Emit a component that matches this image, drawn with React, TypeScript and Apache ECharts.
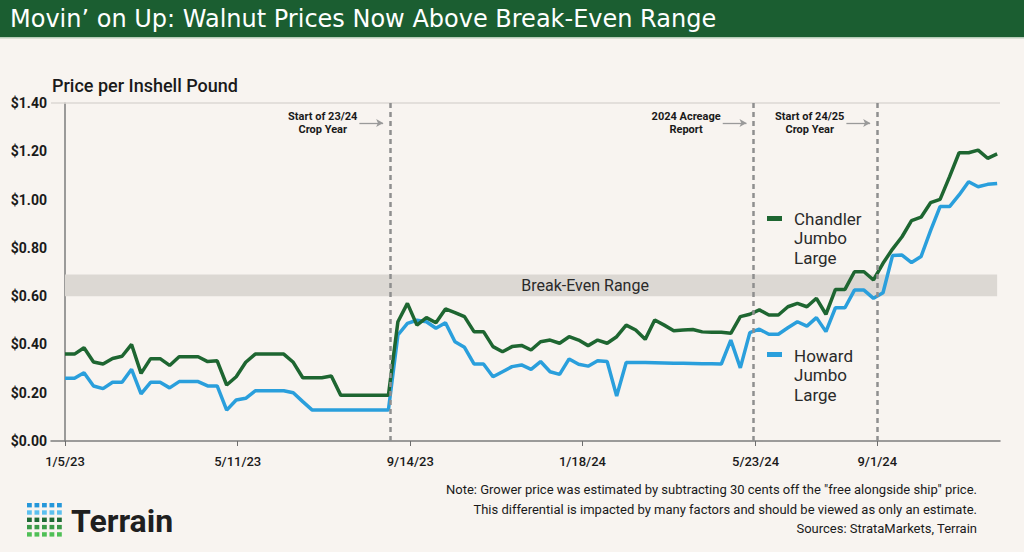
import React, { useEffect, useRef } from 'react';
import * as echarts from 'echarts';

// X positions are week indices (one point per week)
const tickPositions = [0, 18.16, 36.3, 54.4, 72.6, 85.4];
const tickLabels = ['1/5/23', '5/11/23', '9/14/23', '1/18/24', '5/23/24', '9/1/24'];
const eventPositions = [34.2, 72.4, 85.4];
const eventLabels = ['Start of 23/24\nCrop Year', '2024 Acreage\nReport', 'Start of 24/25\nCrop Year'];
const breakEvenRange = [0.6, 0.69];
const breakEvenLabel = 'Break-Even Range';
const seriesNames = ['Chandler Jumbo Large', 'Howard Jumbo Large'];

const chandler = [
  0.36, 0.36, 0.386, 0.327, 0.319, 0.342, 0.351, 0.40, 0.28, 0.341,
  0.341, 0.313, 0.349, 0.349, 0.349, 0.329, 0.332, 0.232, 0.266, 0.326,
  0.36, 0.36, 0.36, 0.36, 0.326, 0.262, 0.262, 0.262, 0.269, 0.189,
  0.189, 0.189, 0.189, 0.189, 0.189, 0.494, 0.57, 0.48, 0.511, 0.49,
  0.547, 0.532, 0.515, 0.453, 0.453, 0.391, 0.37, 0.391, 0.396, 0.377,
  0.411, 0.418, 0.405, 0.432, 0.418, 0.395, 0.418, 0.405, 0.432, 0.48,
  0.46, 0.421, 0.501, 0.48, 0.457, 0.46, 0.462, 0.452, 0.45, 0.45,
  0.446, 0.515, 0.525, 0.543, 0.522, 0.522, 0.556, 0.57, 0.556, 0.591,
  0.525, 0.628, 0.628, 0.701, 0.701, 0.667, 0.736, 0.795, 0.846, 0.913,
  0.927, 0.987, 1.001, 1.095, 1.194, 1.194, 1.205, 1.171, 1.189,
];

const howard = [
  0.26, 0.26, 0.283, 0.228, 0.217, 0.243, 0.243, 0.297, 0.195, 0.243,
  0.243, 0.22, 0.246, 0.246, 0.246, 0.228, 0.228, 0.128, 0.17, 0.177,
  0.208, 0.208, 0.208, 0.208, 0.2, 0.163, 0.128, 0.128, 0.128, 0.128,
  0.128, 0.128, 0.128, 0.128, 0.128, 0.439, 0.487, 0.5, 0.494, 0.467,
  0.49, 0.411, 0.388, 0.319, 0.319, 0.266, 0.287, 0.308, 0.315, 0.297,
  0.329, 0.287, 0.276, 0.34, 0.318, 0.31, 0.332, 0.329, 0.186, 0.325,
  0.325, 0.325, 0.324, 0.323, 0.322, 0.322, 0.321, 0.32, 0.32, 0.319,
  0.418, 0.303, 0.449, 0.463, 0.442, 0.442, 0.469, 0.494, 0.476, 0.511,
  0.453, 0.552, 0.552, 0.625, 0.625, 0.591, 0.614, 0.768, 0.77, 0.739,
  0.764, 0.871, 0.971, 0.971, 1.019, 1.074, 1.053, 1.063, 1.067,
];

const GREEN = '#1e6631';
const BLUE = '#2a9fdc';
const BODY_FONT = 'Roboto, "Liberation Sans", sans-serif';

const logoColors = ['#2597da', '#5cc0ef', '#1e6a35', '#3a9a48', '#4fbf56'];

export default function App() {
  const ref = useRef<HTMLDivElement>(null);

  useEffect(() => {
    if (!ref.current) return;
    const chart = echarts.init(ref.current, undefined, { renderer: 'svg' });

    const logo: any[] = [];
    logoColors.forEach((c, r) => {
      for (let k = 0; k < 5; k++) {
        logo.push({
          type: 'rect',
          shape: { x: 27 + k * 7.5, y: 503 + r * 7.3, width: 4.8, height: 4.4 },
          style: { fill: c },
        });
      }
    });

    const option: any = {
      animation: false,
      backgroundColor: '#f8f4f0',
      grid: { left: 51, right: 24, top: 103, bottom: 111, containLabel: false },
      xAxis: {
        type: 'value',
        min: -1.47,
        max: 98.3,
        axisLine: { show: true, lineStyle: { color: '#7d7d7d', width: 1.5 } },
        axisTick: { show: true, customValues: tickPositions, length: 5, lineStyle: { color: '#6d6d6d', width: 1 } },
        axisLabel: {
          customValues: tickPositions,
          margin: 14,
          fontSize: 13,
          fontWeight: 500,
          color: '#1a1a1a',
          fontFamily: BODY_FONT,
          formatter: (v: number) => {
            const idx = tickPositions.findIndex((p) => Math.abs(p - v) < 0.01);
            return idx >= 0 ? tickLabels[idx] : '';
          },
        },
        splitLine: { show: false },
      },
      yAxis: {
        type: 'value',
        min: 0,
        max: 1.4,
        interval: 0.2,
        axisLine: { show: true, lineStyle: { color: '#7d7d7d', width: 1.5 } },
        axisTick: { show: false },
        splitLine: { show: false },
        axisLabel: {
          margin: 4,
          fontSize: 14,
          fontWeight: 'bold',
          color: '#1a1a1a',
          fontFamily: BODY_FONT,
          formatter: (v: number) => '$' + v.toFixed(2),
        },
      },
      series: [
        {
          name: 'band',
          type: 'line',
          data: [],
          z: 1,
          markArea: {
            silent: true,
            itemStyle: { color: '#dcd8d3' },
            label: {
              show: true,
              position: 'inside',
              offset: [54, 0],
              formatter: breakEvenLabel,
              fontSize: 16,
              color: '#2a2a2a',
              fontFamily: BODY_FONT,
            },
            data: [[{ xAxis: 0, yAxis: breakEvenRange[0] }, { xAxis: chandler.length - 1, yAxis: breakEvenRange[1] }]],
          },
          markLine: {
            silent: true,
            symbol: 'none',
            label: { show: false },
            lineStyle: { color: '#dcd9d5', width: 1.5, type: 'solid' },
            data: [{ yAxis: 1.4 }],
          },
        },
        {
          name: 'events',
          type: 'line',
          data: [],
          z: 2,
          markLine: {
            silent: true,
            symbol: 'none',
            label: { show: false },
            lineStyle: { color: '#8f8f8f', width: 2.5, type: [5, 4] },
            data: eventPositions.map((x) => ({ xAxis: x })),
          },
        },
        {
          name: 'arrows',
          type: 'line',
          data: [],
          z: 2,
          markLine: {
            silent: true,
            symbol: ['none', 'arrow'],
            symbolSize: [6, 7],
            label: { show: false },
            lineStyle: { color: '#9a9a9a', width: 1.3, type: 'solid' },
            data: eventPositions.map((x) => [
              { coord: [x - 3.25, 1.317] },
              { coord: [x - 0.75, 1.317] },
            ]),
          },
          markPoint: {
            silent: true,
            symbol: 'circle',
            symbolSize: 0,
            label: {
              show: true,
              position: 'inside',
              align: 'center',
              verticalAlign: 'middle',
              fontSize: 11,
              lineHeight: 13.5,
              fontWeight: 'bold',
              color: '#1a1a1a',
              fontFamily: BODY_FONT,
            },
            data: eventPositions.map((x, i) => ({
              coord: [x - 7.1, 1.317],
              value: eventLabels[i],
              label: { formatter: eventLabels[i] },
            })),
          },
        },
        {
          name: seriesNames[0],
          type: 'line',
          z: 4,
          showSymbol: false,
          lineStyle: { color: GREEN, width: 3.5 },
          itemStyle: { color: GREEN },
          data: chandler.map((v, i) => [i, v]),
        },
        {
          name: seriesNames[1],
          type: 'line',
          z: 3,
          showSymbol: false,
          lineStyle: { color: BLUE, width: 3.5 },
          itemStyle: { color: BLUE },
          data: howard.map((v, i) => [i, v]),
        },
      ],
      graphic: [
        { type: 'rect', shape: { x: 0, y: 0, width: 1024, height: 37 }, style: { fill: '#1b5e31' } },
        { type: 'rect', shape: { x: 0, y: 37, width: 1024, height: 1.5 }, style: { fill: '#b8cdb9' } },
        {
          type: 'text',
          x: 10,
          y: 19,
          style: {
            text: 'Movin\u2019 on Up: Walnut Prices Now Above Break-Even Range',
            fill: '#ffffff',
            fontSize: 24,
            fontFamily: '"DejaVu Sans", sans-serif',
            verticalAlign: 'middle',
          },
        },
        {
          type: 'text',
          x: 52,
          y: 85,
          style: {
            text: 'Price per Inshell Pound',
            fill: '#1a1a1a',
            fontSize: 18,
            fontWeight: 500,
            fontFamily: BODY_FONT,
            verticalAlign: 'middle',
          },
        },
        { type: 'rect', shape: { x: 767, y: 216, width: 15, height: 5 }, style: { fill: GREEN } },
        {
          type: 'text',
          x: 794,
          y: 209,
          style: {
            text: 'Chandler\nJumbo\nLarge',
            fill: '#2a2a2a',
            fontSize: 17,
            lineHeight: 19.5,
            fontFamily: BODY_FONT,
            verticalAlign: 'top',
          },
        },
        { type: 'rect', shape: { x: 767, y: 352, width: 15, height: 5 }, style: { fill: BLUE } },
        {
          type: 'text',
          x: 794,
          y: 346,
          style: {
            text: 'Howard\nJumbo\nLarge',
            fill: '#2a2a2a',
            fontSize: 17,
            lineHeight: 19.5,
            fontFamily: BODY_FONT,
            verticalAlign: 'top',
          },
        },
        {
          type: 'text',
          x: 977,
          y: 480,
          style: {
            text:
              'Note: Grower price was estimated by subtracting 30 cents off the "free alongside ship" price.\nThis differential is impacted by many factors and should be viewed as only an estimate.\nSources: StrataMarkets, Terrain',
            fill: '#1a1a1a',
            fontSize: 13,
            lineHeight: 19.5,
            fontFamily: BODY_FONT,
            align: 'right',
            verticalAlign: 'top',
          },
        },
        ...logo,
        {
          type: 'text',
          x: 71,
          y: 521,
          style: {
            text: 'Terrain',
            fill: '#1f1f1f',
            fontSize: 32,
            fontWeight: 'bold',
            fontFamily: BODY_FONT,
            verticalAlign: 'middle',
          },
        },
      ],
    };

    chart.setOption(option);
    return () => chart.dispose();
  }, []);

  return (
    <div
      ref={ref}
      style={{ position: 'fixed', left: 0, top: 0, width: 1024, height: 552 }}
    />
  );
}
